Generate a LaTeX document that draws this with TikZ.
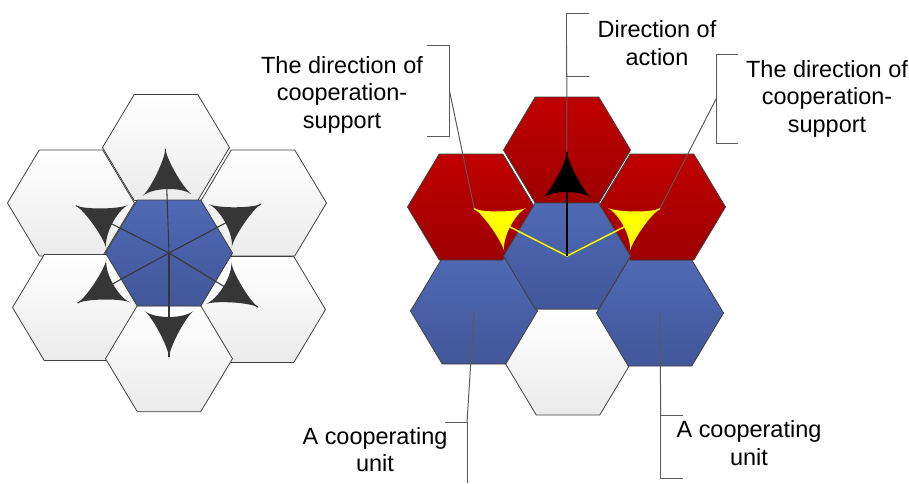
\documentclass[tikz,border=0pt]{standalone}
\usepackage{fontspec}
\setmainfont{Liberation Sans}
\definecolor{hexgray}{HTML}{404040}
\definecolor{hexwhite}{HTML}{EBEBEB}
\definecolor{blueT}{HTML}{4F69B4}
\definecolor{blueB}{HTML}{42579A}
\definecolor{redT}{HTML}{C00000}
\definecolor{redB}{HTML}{9E0000}
\definecolor{leadgray}{HTML}{5A5A5A}
\definecolor{cuspgray}{HTML}{363636}
\definecolor{yel}{HTML}{FFFF00}
\begin{document}
\begin{tikzpicture}[x=0.75pt,y=-0.75pt,
  hexline/.style={draw=hexgray, line width=0.6pt},
  whitehex/.style={hexline, top color=white, bottom color=hexwhite},
  bluehex/.style={hexline, top color=blueT, bottom color=blueB},
  redhex/.style={hexline, top color=redT, bottom color=redB},
  lbl/.style={font=\fontsize{17.6}{20.5}\selectfont, align=center, inner sep=0pt, anchor=base},
  leader/.style={draw=leadgray, line width=0.75pt},
  spoke/.style={draw=cuspgray, line width=0.8pt},
  hexa/.pic={\path[pic actions] (-63.5,0) -- (-31.75,-53) -- (31.75,-53) -- (63.5,0) -- (31.75,53) -- (-31.75,53) -- cycle;},
  cusp/.pic={\path[pic actions] (105,0) .. controls (95,0) and (64,16.5) .. (58,24.5) .. controls (66,14) and (66,-14) .. (58,-24.5) .. controls (64,-16.5) and (95,0) .. (105,0) -- cycle;}
]
\useasboundingbox (0,0) rectangle (909,483);

% ---------- left cluster ----------
\coordinate (lc) at (169,253);
\coordinate (ltop) at (166,147.5);
\coordinate (lul) at (71,203);
\coordinate (lur) at (263,203);
\coordinate (lll) at (76,307.5);
\coordinate (llr) at (262,309.5);
\coordinate (lbot) at (169,358.7);
\pic[whitehex] at (ltop) {hexa};
\pic[whitehex] at (lul) {hexa};
\pic[whitehex] at (lur) {hexa};
\pic[whitehex] at (lll) {hexa};
\pic[whitehex] at (llr) {hexa};
\pic[whitehex] at (lbot) {hexa};
\pic[bluehex] at (lc) {hexa};

\coordinate (t1) at (165.4,149.1);
\coordinate (t2) at (260.8,204.2);
\coordinate (t3) at (76.3,205.8);
\coordinate (t4) at (77.8,302.9);
\coordinate (t5) at (257.8,307);
\coordinate (t6) at (169,357);
\foreach \t in {t1,t2,t3,t4,t5,t6} \draw[spoke] (lc) -- (\t);
\pic[fill=cuspgray, rotate=92] at (lc) {cusp};
\pic[fill=cuspgray, rotate=28] at (lc) {cusp};
\pic[fill=cuspgray, rotate=153] at (lc) {cusp};
\pic[fill=cuspgray, rotate=208.7] at (lc) {cusp};
\pic[fill=cuspgray, rotate=-31.3] at (lc) {cusp};
\pic[fill=cuspgray, rotate=-90] at (lc) {cusp};

% ---------- right cluster ----------
\coordinate (rc) at (567,256);
\coordinate (rtop) at (567,150);
\coordinate (rul) at (471,207);
\coordinate (rur) at (662,207);
\coordinate (rll) at (474,311);
\coordinate (rlr) at (660,313);
\coordinate (rbot) at (568,362);
\pic[whitehex] at (rbot) {hexa};
\pic[bluehex] at (rll) {hexa};
\pic[bluehex] at (rlr) {hexa};
\pic[redhex] at (rul) {hexa};
\pic[redhex] at (rur) {hexa};
\pic[redhex] at (rtop) {hexa};
\pic[bluehex] at (rc) {hexa};

\coordinate (rt1) at (567,152);
\coordinate (rt2) at (474.3,208.8);
\coordinate (rt3) at (659.7,208.8);

% labels (anchor = baseline of last line)
\node[lbl] (l1) at (342,128.3) {The direction of\\cooperation-\\support};
\node[lbl] (l2) at (657,65) {Direction of\\action};
\node[lbl] (l3) at (827,132.3) {The direction of\\cooperation-\\support};
\node[lbl] (l4) at (375,471.7) {A cooperating\\unit};
\node[lbl] (l5) at (749,465) {A cooperating\\unit};

% brackets and leaders
\coordinate (b1a) at (426.7,45);   \coordinate (b1b) at (449.3,45);
\coordinate (b1c) at (449.3,136);  \coordinate (b1d) at (426.7,136);
\coordinate (b1m) at (449.3,90);
\draw[leader] (b1a) -- (b1b) -- (b1c) -- (b1d);
\draw[leader] (b1m) -- (rt2);

\coordinate (b2a) at (589.3,13.3); \coordinate (b2b) at (566.7,13.3);
\coordinate (b2c) at (566.7,76.7); \coordinate (b2d) at (589.3,76.7);
\coordinate (b2m) at (566.7,45);
\draw[leader] (b2a) -- (b2b) -- (b2c) -- (b2d);
\draw[leader] (b2m) -- (rc);

\coordinate (b3a) at (738.3,54.3); \coordinate (b3b) at (716,54.3);
\coordinate (b3c) at (716,143.3);  \coordinate (b3d) at (738.3,143.3);
\coordinate (b3m) at (716,99);
\draw[leader] (b3a) -- (b3b) -- (b3c) -- (b3d);
\draw[leader] (b3m) -- (rt3);

\coordinate (b4a) at (445,422.7);  \coordinate (b4b) at (467,422.7);
\coordinate (b4c) at (467,483);
\draw[leader] (b4a) -- (b4b) -- (b4c);
\draw[leader] (rll) -- (b4b);

\coordinate (b5a) at (682.7,415);  \coordinate (b5b) at (660.7,415);
\coordinate (b5c) at (660.7,478.3); \coordinate (b5d) at (682.7,478.3);
\draw[leader] (b5a) -- (b5b) -- (b5c) -- (b5d);
\draw[leader] (rlr) -- (b5b);

% direction lines and arrowheads
\draw[yel, line width=1.1pt] (rt2) -- (rc) -- (rt3);
\draw[black, line width=1.5pt] (rc) -- (rt1);
\pic[fill=black, rotate=90] at (rc) {cusp};
\pic[fill=yel, rotate=153] at (rc) {cusp};
\pic[fill=yel, rotate=27] at (rc) {cusp};
\end{tikzpicture}
\end{document}
